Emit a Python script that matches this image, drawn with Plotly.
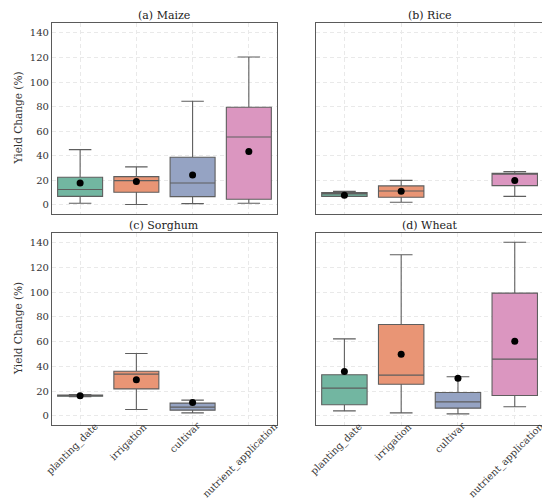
import plotly.graph_objects as go

treatments = ["planting_date", "irrigation", "cultivar", "nutrient_application"]
crops = ["(a) Maize", "(b) Rice", "(c) Sorghum", "(d) Wheat"]
colors = ["#72b6a1", "#e99575", "#95a3c3", "#db96c0"]
y_ticks = [0, 20, 40, 60, 80, 100, 120, 140]

# box stats per crop, order follows treatments (None = no data)
maize_low = [1.4, 0.3, 1.1, 1.4]
maize_q1 = [7, 10.3, 6.8, 4.6]
maize_med = [12.5, 19.8, 17.9, 55.3]
maize_q3 = [22.5, 23, 38.8, 79.5]
maize_high = [45, 31, 84.4, 120.4]
maize_mean = [17.9, 19, 24.4, 43.4]

rice_low = [7, 2.2, None, 7]
rice_q1 = [7, 6.3, None, 15.7]
rice_med = [9, 11.4, None, 25]
rice_q3 = [10, 15.5, None, 25.8]
rice_high = [11, 20, None, 27.1]
rice_mean = [7.9, 11.1, None, 19.8]

sorghum_low = [15.4, 5.1, 2.4, None]
sorghum_q1 = [15.8, 21.8, 4.6, None]
sorghum_med = [16.2, 33.7, 7, None]
sorghum_q3 = [16.8, 36.1, 10.3, None]
sorghum_high = [17.2, 50.4, 12.7, None]
sorghum_mean = [16.2, 29.1, 10.8, None]

wheat_low = [4, 2.4, 1.6, 7.3]
wheat_q1 = [8.9, 25.6, 6.2, 16.4]
wheat_med = [22.4, 32.9, 11.3, 45.9]
wheat_q3 = [33.2, 73.9, 18.9, 99.3]
wheat_high = [62.3, 130.3, 31.6, 140.5]
wheat_mean = [35.9, 49.9, 30.5, 60.4]

stats = [
    (maize_low, maize_q1, maize_med, maize_q3, maize_high, maize_mean),
    (rice_low, rice_q1, rice_med, rice_q3, rice_high, rice_mean),
    (sorghum_low, sorghum_q1, sorghum_med, sorghum_q3, sorghum_high, sorghum_mean),
    (wheat_low, wheat_q1, wheat_med, wheat_q3, wheat_high, wheat_mean),
]

x_domains = [[0.08, 0.489], [0.56, 0.973], [0.08, 0.489], [0.56, 0.973]]
y_domains = [[0.589, 0.970], [0.589, 0.970], [0.168, 0.551], [0.168, 0.551]]

fig = go.Figure()
line_col = "#5e5e5e"
text_col = "#333333"

for p in range(4):
    ax = "" if p == 0 else str(p + 1)
    low, q1, med, q3, high, mean = stats[p]
    for i in range(4):
        if med[i] is None:
            continue
        fig.add_trace(go.Box(
            x=[i], q1=[q1[i]], median=[med[i]], q3=[q3[i]],
            lowerfence=[low[i]], upperfence=[high[i]],
            width=0.8, whiskerwidth=0.5,
            fillcolor=colors[i], line=dict(color=line_col, width=1.1),
            showlegend=False, hoverinfo="skip",
            xaxis="x" + ax, yaxis="y" + ax,
        ))
        fig.add_trace(go.Scatter(
            x=[i], y=[mean[i]], mode="markers",
            marker=dict(color="black", size=7),
            showlegend=False, xaxis="x" + ax, yaxis="y" + ax,
        ))

grid = dict(showgrid=True, gridcolor="#e9e9e9", griddash="4px,3px", gridwidth=0.8,
            showline=True, linecolor="#5a5a5a", linewidth=1.2, mirror=True,
            zeroline=False, ticks="", automargin=False,
            tickfont=dict(size=10, color=text_col))

layout = {}
for p in range(4):
    ax = "" if p == 0 else str(p + 1)
    layout["xaxis" + ax] = dict(
        grid, domain=x_domains[p], anchor="y" + ax,
        range=[-0.5, 3.5], tickvals=[0, 1, 2, 3], ticktext=treatments,
        showticklabels=False,
    )
    layout["yaxis" + ax] = dict(
        grid, domain=y_domains[p], anchor="x" + ax,
        range=[-7.3, 148], tickvals=y_ticks,
        showticklabels=(p % 2 == 0),
    )

annotations = []
for p in range(4):
    ax = "" if p == 0 else str(p + 1)
    annotations.append(dict(
        text=crops[p], xref="paper", yref="paper",
        x=sum(x_domains[p]) / 2, y=y_domains[p][1],
        xanchor="center", yanchor="bottom", yshift=-1, showarrow=False,
        font=dict(size=11, color="#222222"),
    ))
    if p % 2 == 0:
        annotations.append(dict(
            text="Yield Change (%)", xref="paper", yref="paper",
            x=10 / 550, y=sum(y_domains[p]) / 2, textangle=-90,
            xanchor="center", yanchor="middle", showarrow=False,
            font=dict(size=10.5, color=text_col),
        ))
    if p >= 2:
        # rotated category labels centred under each tick
        for i, name in enumerate(treatments):
            annotations.append(dict(
                text=name, xref="x" + ax, yref="paper",
                x=i, y=y_domains[p][0], textangle=-45,
                xanchor="center", yanchor="top", xshift=-8, yshift=6,
                showarrow=False, borderpad=0,
                font=dict(size=9.8, color=text_col),
            ))

fig.update_layout(
    **layout,
    annotations=annotations,
    width=550, height=501,
    margin=dict(l=0, r=0, t=0, b=0),
    paper_bgcolor="white", plot_bgcolor="white",
    font=dict(family="DejaVu Serif", color=text_col),
    boxmode="overlay",
)

fig.write_html("out.html")
